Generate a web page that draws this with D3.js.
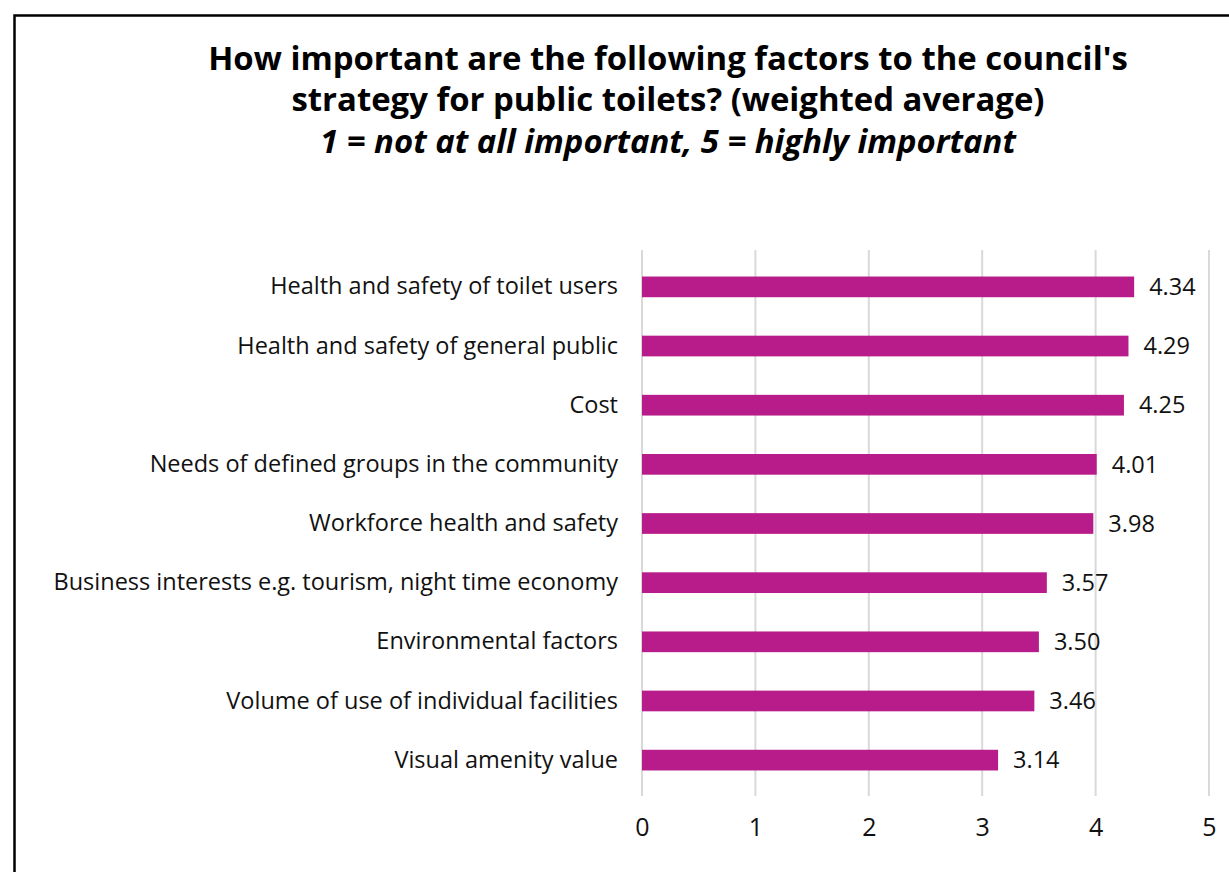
<!DOCTYPE html>
<html>
<head>
<meta charset="utf-8">
<script src="https://cdn.jsdelivr.net/npm/d3@7"></script>
<style>
  body { margin: 0; background: #fff; }
  text { font-family: "Open Sans", sans-serif; }
</style>
</head>
<body>
<div id="chart"></div>
<script>
const categories = [
  "Health and safety of toilet users",
  "Health and safety of general public",
  "Cost",
  "Needs of defined groups in the community",
  "Workforce health and safety",
  "Business interests e.g. tourism, night time economy",
  "Environmental factors",
  "Volume of use of individual facilities",
  "Visual amenity value",
];
const values = [4.34, 4.29, 4.25, 4.01, 3.98, 3.57, 3.50, 3.46, 3.14];
const xTicks = [0, 1, 2, 3, 4, 5];
const titleLines = [
  "How important are the following factors to the council's",
  "strategy for public toilets? (weighted average)",
  "1 = not at all important, 5 = highly important",
];

const W = 1229, H = 872;
const svg = d3.select("#chart").append("svg").attr("width", W).attr("height", H);

// outer frame (runs off the right and bottom edge)
svg.append("rect")
  .attr("x", 14.5).attr("y", 15.5)
  .attr("width", W + 20).attr("height", H + 20)
  .attr("fill", "none").attr("stroke", "#000").attr("stroke-width", 2.5);

// title: first line sized to span about the same width as the original
const titleY = [70, 111, 153];
const titles = titleLines.map((t, i) =>
  svg.append("text")
    .attr("x", 668).attr("y", titleY[i])
    .attr("text-anchor", "middle")
    .style("font-size", "29px")
    .style("font-weight", "bold")
    .style("font-style", i === 2 ? "italic" : "normal")
    .text(t)
);
const titleSize = Math.min(34, 29 * 920 / titles[0].node().getComputedTextLength());
titles.forEach(t => t.style("font-size", titleSize + "px"));

const x = d3.scaleLinear().domain([0, 5]).range([642, 1209]);
const y = d3.scaleBand().domain(categories).range([256, 789]).paddingInner(0.65).paddingOuter(0.33);

// gridlines
svg.append("g").selectAll("line").data(xTicks).join("line")
  .attr("x1", d => x(d)).attr("x2", d => x(d))
  .attr("y1", 250).attr("y2", 796)
  .attr("stroke", "#d9d9d9").attr("stroke-width", 2);

// bars
svg.append("g").selectAll("rect").data(values).join("rect")
  .attr("x", x(0))
  .attr("y", (d, i) => y(categories[i]) + 1)
  .attr("width", d => x(d) - x(0))
  .attr("height", y.bandwidth())
  .attr("fill", "#b81c8a");

// value labels
svg.append("g").selectAll("text").data(values).join("text")
  .attr("x", d => x(d) + 15)
  .attr("y", (d, i) => y(categories[i]) + y.bandwidth() / 2 + 1)
  .attr("dy", "0.35em")
  .style("font-size", "23.5px")
  .style("fill", "#111")
  .text(d => d.toFixed(2));

// category labels
const yAxis = svg.append("g")
  .attr("transform", `translate(${x(0) - 8},1)`)
  .call(d3.axisLeft(y).tickSize(0).tickPadding(16));
yAxis.select(".domain").remove();
yAxis.selectAll("text")
  .style("font-family", "'Open Sans', sans-serif")
  .style("font-size", "23.5px")
  .style("fill", "#111");

// x axis
const xAxis = svg.append("g")
  .attr("transform", "translate(0,804)")
  .call(d3.axisBottom(x).tickValues(xTicks).tickFormat(d3.format("d")).tickSize(0).tickPadding(14));
xAxis.select(".domain").remove();
xAxis.selectAll("text")
  .style("font-family", "'Open Sans', sans-serif")
  .style("font-size", "25px")
  .style("fill", "#111");
</script>
</body>
</html>
